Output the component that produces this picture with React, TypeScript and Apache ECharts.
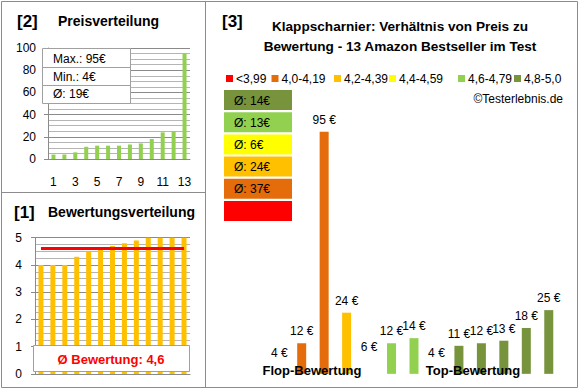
import React, { useEffect, useRef } from "react";
import * as echarts from "echarts";

// ---------- data ----------
const priceCategories = ["1", "2", "3", "4", "5", "6", "7", "8", "9", "10", "11", "12", "13"];
const pricesSorted = [4, 4, 6, 11, 12, 12, 12, 13, 14, 18, 24, 25, 95];
const ratingsSorted = [4.0, 4.0, 4.0, 4.3, 4.5, 4.6, 4.7, 4.8, 4.9, 5.0, 5.0, 5.0, 5.0];
const avgRating = 4.6;
const avgRatingLabel = "Ø Bewertung: 4,6";
const priceStats = ["Max.: 95€", "Min.: 4€", "Ø: 19€"];

const groupCategories = ["p1", "p2", "p3", "p4", "p5", "p6", "p7", "p8", "p9", "p10", "p11", "p12", "p13"];
const groupPrices = [4, 12, 95, 24, 6, 12, 14, 4, 11, 12, 13, 18, 25];
const groupRatings = [4.0, 4.0, 4.0, 4.3, 4.5, 4.6, 4.7, 4.8, 4.9, 5.0, 5.0, 5.0, 5.0];
const groupNames = ["Flop-Bewertung", "Top-Bewertung"];

const bandLabels = ["<3,99", "4,0-4,19", "4,2-4,39", "4,4-4,59", "4,6-4,79", "4,8-5,0"];
const bandLower = [0, 4.0, 4.2, 4.4, 4.6, 4.8];
const bandColors = ["#FF0000", "#E46C0A", "#FFC000", "#FFFF00", "#92D050", "#77933C"];
const bandAvgLabels = ["", "Ø: 37€", "Ø: 24€", "Ø: 6€", "Ø: 13€", "Ø: 14€"];

const titleLines = ["Klappscharnier: Verhältnis von Preis zu", "Bewertung - 13 Amazon Bestseller im Test"];
const copyright = "©Testerlebnis.de";

// ---------- styles / layout ----------
const FONT = "'Liberation Sans', Arial, sans-serif";
const BORDER = "#8c8c8c";
const GRID_MAJOR = "#8a8a8a";
const GRID_MINOR = "#b5b5b5";
const legendX = [226, 271.5, 334, 389, 458, 514];
const groupMin = 7;

function bandIndex(r: number): number {
  let idx = 0;
  for (let i = 0; i < bandLower.length; i++) if (r >= bandLower[i] - 1e-9) idx = i;
  return idx;
}

export default function App() {
  const ref = useRef<HTMLDivElement>(null);
  useEffect(() => {
    if (!ref.current) return;
    const chart = echarts.init(ref.current, undefined, { renderer: "svg" });

    const txt = (x: number, y: number, text: string, size: number, bold: boolean, extra: any = {}) => ({
      type: "text",
      x,
      y,
      z: 100,
      style: {
        text,
        fontFamily: FONT,
        fontSize: size,
        fontWeight: bold ? "bold" : "normal",
        fill: "#000",
        verticalAlign: "middle",
        align: "left",
        ...extra,
      },
    });

    const graphics: any[] = [];
    // borders
    graphics.push({ type: "rect", z: 100, shape: { x: 1.5, y: 1.5, width: 576, height: 386 }, style: { fill: "none", stroke: BORDER, lineWidth: 1 } });
    graphics.push({ type: "line", z: 100, shape: { x1: 205.5, y1: 1.5, x2: 205.5, y2: 387.5 }, style: { stroke: BORDER, lineWidth: 1 } });
    graphics.push({ type: "line", z: 100, shape: { x1: 1.5, y1: 192.5, x2: 205.5, y2: 192.5 }, style: { stroke: BORDER, lineWidth: 1 } });

    // panel titles
    graphics.push(txt(17, 21, "[2]", 17, true));
    graphics.push(txt(58, 21, "Preisverteilung", 14, true));
    graphics.push(txt(14, 212, "[1]", 17, true));
    graphics.push(txt(48, 212, "Bewertungsverteilung", 14, true));
    graphics.push(txt(222, 21, "[3]", 17, true));
    graphics.push(txt(400, 26, titleLines[0], 13.6, true, { align: "center" }));
    graphics.push(txt(400, 46, titleLines[1], 13.6, true, { align: "center" }));

    // stats box
    graphics.push({ type: "rect", z: 100, shape: { x: 42.5, y: 48.5, width: 88, height: 55 }, style: { fill: "#fff", stroke: "#a0a0a0", lineWidth: 1 } });
    graphics.push({ type: "line", z: 100, shape: { x1: 42.5, y1: 67.5, x2: 130.5, y2: 67.5 }, style: { stroke: "#a0a0a0", lineWidth: 1 } });
    graphics.push({ type: "line", z: 100, shape: { x1: 42.5, y1: 85.5, x2: 130.5, y2: 85.5 }, style: { stroke: "#a0a0a0", lineWidth: 1 } });
    priceStats.forEach((s, i) => graphics.push(txt(53, 59 + i * 17.7, s, 12, false)));

    // average rating box
    graphics.push({ type: "rect", z: 100, shape: { x: 33.5, y: 345.5, width: 156, height: 26 }, style: { fill: "#fff", stroke: "#a0a0a0", lineWidth: 1 } });
    graphics.push(txt(111, 359, avgRatingLabel, 13, true, { align: "center", fill: "#FF0000" }));

    // legend
    bandLabels.forEach((l, i) => {
      graphics.push({ type: "rect", z: 100, shape: { x: legendX[i], y: 75, width: 7, height: 7 }, style: { fill: bandColors[i] } });
      graphics.push(txt(legendX[i] + 10, 79, l, 12, false));
    });
    graphics.push(txt(563, 99, copyright, 12, false, { align: "right" }));

    // band average boxes (top: best band)
    for (let k = 0; k < bandColors.length; k++) {
      const i = bandColors.length - 1 - k;
      const y = 90 + k * 22.2;
      graphics.push({ type: "rect", z: 100, shape: { x: 224, y, width: 68, height: 20 }, style: { fill: bandColors[i] } });
      if (bandAvgLabels[i]) graphics.push(txt(234, y + 10.5, bandAvgLabels[i], 12, false));
    }

    // group names
    graphics.push(txt(312, 370, groupNames[0], 13, true, { align: "center" }));
    graphics.push(txt(473, 370, groupNames[1], 13, true, { align: "center" }));

    const groupData = groupPrices.map((v, i) => {
      const item: any = { value: v, itemStyle: { color: bandColors[bandIndex(groupRatings[i])] } };
      if (v < groupMin) {
        item.itemStyle = { color: "rgba(0,0,0,0)" };
        item.label = { offset: [0, (groupMin - v) * 0.5] };
      }
      return item;
    });

    const option: any = {
      animation: false,
      backgroundColor: "#fff",
      textStyle: { fontFamily: FONT },
      grid: [
        { left: 48, top: 48, width: 142, height: 111 },
        { left: 35, top: 237.7, width: 155, height: 136.3 },
        { left: 268, top: 119, width: 292, height: 237 },
      ],
      xAxis: [
        {
          gridIndex: 0,
          type: "category",
          data: priceCategories,
          axisLine: { lineStyle: { color: GRID_MAJOR } },
          axisTick: { show: false },
          axisLabel: { interval: 1, margin: 17, fontSize: 12, color: "#000", fontFamily: FONT },
        },
        {
          gridIndex: 1,
          type: "category",
          data: priceCategories,
          axisLine: { lineStyle: { color: GRID_MAJOR } },
          axisTick: { show: false },
          axisLabel: { show: false },
        },
        { gridIndex: 2, type: "category", data: groupCategories, show: false },
      ],
      yAxis: [
        {
          gridIndex: 0,
          type: "value",
          min: 0,
          max: 100,
          interval: 20,
          axisLine: { show: true, lineStyle: { color: GRID_MAJOR } },
          axisTick: { show: true, length: 4, lineStyle: { color: GRID_MAJOR } },
          axisLabel: { margin: 12, fontSize: 12, color: "#000", fontFamily: FONT },
          splitLine: { lineStyle: { color: GRID_MAJOR } },
          minorTick: { show: false, splitNumber: 4 },
          minorSplitLine: { show: true, lineStyle: { color: GRID_MINOR } },
        },
        {
          gridIndex: 1,
          type: "value",
          min: 0,
          max: 5,
          interval: 1,
          axisLine: { show: true, lineStyle: { color: GRID_MAJOR } },
          axisTick: { show: true, length: 4, lineStyle: { color: GRID_MAJOR } },
          axisLabel: { margin: 13, fontSize: 12, color: "#000", fontFamily: FONT },
          splitLine: { lineStyle: { color: GRID_MAJOR } },
          minorTick: { show: false, splitNumber: 4 },
          minorSplitLine: { show: true, lineStyle: { color: GRID_MINOR } },
        },
        { gridIndex: 2, type: "value", min: groupMin, max: 100, show: false, splitLine: { show: false } },
      ],
      series: [
        {
          type: "bar",
          xAxisIndex: 0,
          yAxisIndex: 0,
          data: pricesSorted,
          barWidth: 4,
          itemStyle: { color: "#92D050" },
        },
        {
          type: "bar",
          xAxisIndex: 1,
          yAxisIndex: 1,
          data: ratingsSorted,
          barWidth: 5,
          itemStyle: { color: "#FFC000" },
          markLine: {
            silent: true,
            symbol: "none",
            label: { show: false },
            lineStyle: { color: "#FF0000", width: 3, type: "solid" },
            data: [[{ coord: [0, avgRating] }, { coord: [12, avgRating] }]],
          },
        },
        {
          type: "bar",
          xAxisIndex: 2,
          yAxisIndex: 2,
          data: groupData,
          barWidth: 9,
          clip: false,
          label: {
            show: true,
            position: "top",
            distance: 6,
            fontSize: 12,
            color: "#000",
            fontFamily: FONT,
            formatter: (p: any) => `${p.value} €`,
          },
        },
      ],
      graphic: graphics,
    };
    chart.setOption(option);
    return () => chart.dispose();
  }, []);

  return (
    <div
      ref={ref}
      style={{ position: "absolute", left: 0, top: 0, width: 580, height: 390, background: "#fff" }}
    />
  );
}
